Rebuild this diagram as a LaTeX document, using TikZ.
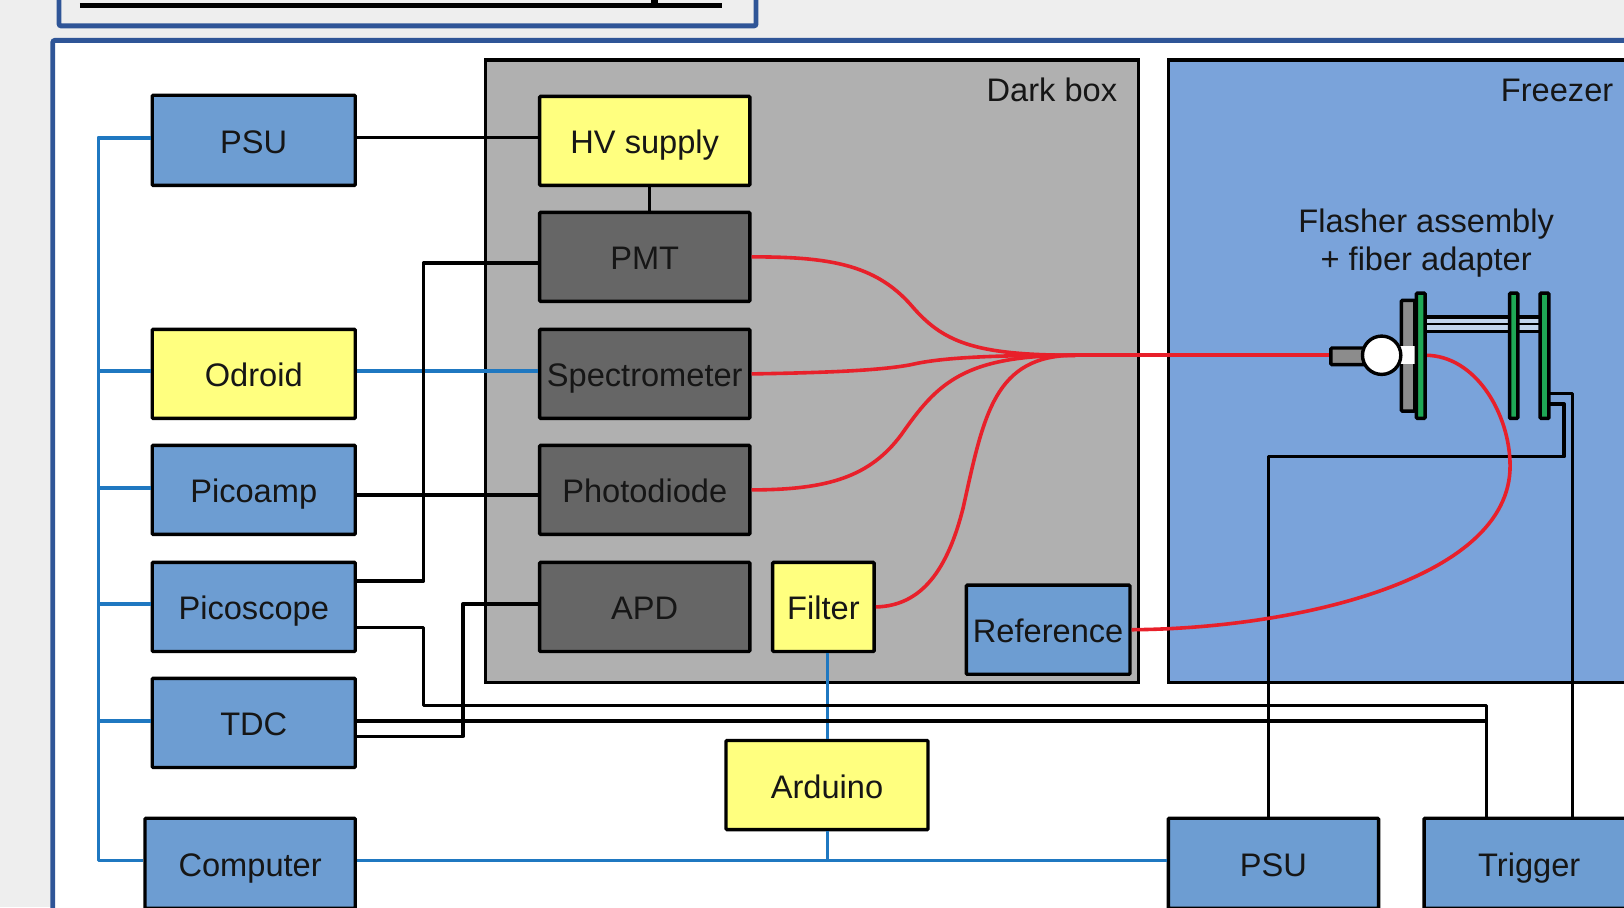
\documentclass[tikz,border=0pt]{standalone}
\usepackage{fontspec}
\setmainfont{Liberation Sans}
\definecolor{bg}{HTML}{EEEEEE}
\definecolor{frame}{HTML}{2F5597}
\definecolor{boxblue}{HTML}{6D9DD2}
\definecolor{freezerblue}{HTML}{7AA3DA}
\definecolor{boxyellow}{HTML}{FFFF7F}
\definecolor{boxdark}{HTML}{666666}
\definecolor{boxgrey}{HTML}{B0B0B0}
\definecolor{linkblue}{HTML}{1F78C1}
\definecolor{fiberred}{HTML}{E8202A}
\definecolor{greenbar}{HTML}{1FA855}
\definecolor{txt}{HTML}{161616}
\tikzset{
  x=0.51786pt,y=-0.51786pt,
  unit/.style={draw=black,line width=1.7pt,rounded corners=0.5pt,inner sep=0pt,font=\fontsize{16.3}{19}\selectfont,text=txt,text height=13pt,text depth=0pt,anchor=center},
  blueunit/.style={unit,fill=boxblue},
  yellowunit/.style={unit,fill=boxyellow},
  darkunit/.style={unit,fill=boxdark},
  enclosure/.style={draw=black,line width=1.7pt,inner sep=0pt},
  caption/.style={font=\fontsize{16.3}{19}\selectfont,text=txt,inner sep=0pt},
  wire/.style={draw=black,line width=1.7pt,line join=round},
  bus/.style={draw=linkblue,line width=1.8pt,line join=round},
  fiber/.style={draw=fiberred,line width=1.8pt},
  part/.style={draw=black,line width=1.7pt,rounded corners=0.5pt},
  bar/.style={part,fill=greenbar},
  panel/.style={draw=frame,line width=2.4pt,rounded corners=1pt},
}
\begin{document}
\begin{tikzpicture}
\useasboundingbox (0,0) rectangle (1568,875.8);
\clip (0,0) rectangle (1568,875.8);
\fill[bg] (0,0) rectangle (1568,875.8);
% panels
\draw[panel,fill=bg] (57,-20) rectangle (730,25);
\draw[black,line width=2.6pt] (77,5) -- (697,5);
\draw[black,line width=3.4pt] (632,-2) -- (632,5);
\draw[panel,fill=white] (51,39) rectangle (1620,920);
% enclosures
\node[enclosure,fill=boxgrey,minimum width=630*0.51786pt,minimum height=601*0.51786pt] (dark) at (784,358.5) {};
\node[enclosure,fill=freezerblue,minimum width=500*0.51786pt,minimum height=601*0.51786pt] (freezer) at (1378,358.5) {};
\node[caption,anchor=east] (darklabel) at (1079,87) {Dark box};
\node[caption,anchor=east] (freezerlabel) at (1558,87) {Freezer};
\node[caption,align=center] (flasherlabel) at (1377,235) {Flasher assembly\\+ fiber adapter};
% wires under units
\draw[wire] (1225,790) -- (1225,441) -- (1510,441) -- (1510,390) -- (1496,390);
\draw[wire] (1518,790) -- (1518,380) -- (1496,380);
% fibers
\coordinate (junction) at (1038,343);
\coordinate (adapter) at (1285,343);
% units
\node[blueunit,minimum width=196*0.51786pt,minimum height=87*0.51786pt] (psua) at (245,135.5) {PSU};
\node[yellowunit,minimum width=196*0.51786pt,minimum height=86*0.51786pt] (odroid) at (245,361) {Odroid};
\node[blueunit,minimum width=196*0.51786pt,minimum height=86*0.51786pt] (picoamp) at (245,473) {Picoamp};
\node[blueunit,minimum width=196*0.51786pt,minimum height=86*0.51786pt] (picoscope) at (245,586) {Picoscope};
\node[blueunit,minimum width=196*0.51786pt,minimum height=86*0.51786pt] (tdc) at (245,698) {TDC};
\node[blueunit,minimum width=203*0.51786pt,minimum height=87*0.51786pt] (computer) at (241.5,833.5) {Computer};
\node[yellowunit,minimum width=203*0.51786pt,minimum height=86*0.51786pt] (hv) at (622.5,136) {HV supply};
\node[darkunit,minimum width=203*0.51786pt,minimum height=86*0.51786pt] (pmt) at (622.5,248) {PMT};
\node[darkunit,minimum width=203*0.51786pt,minimum height=86*0.51786pt] (spec) at (622.5,361) {Spectrometer};
\node[darkunit,minimum width=203*0.51786pt,minimum height=86*0.51786pt] (photo) at (622.5,473) {Photodiode};
\node[darkunit,minimum width=203*0.51786pt,minimum height=86*0.51786pt] (apd) at (622.5,586) {APD};
\node[yellowunit,minimum width=98*0.51786pt,minimum height=86*0.51786pt] (filter) at (795,586) {Filter};
\node[blueunit,minimum width=158*0.51786pt,minimum height=86*0.51786pt] (reference) at (1012,608) {Reference};
\node[yellowunit,minimum width=195*0.51786pt,minimum height=86*0.51786pt] (arduino) at (798.5,758) {Arduino};
\node[blueunit,minimum width=203*0.51786pt,minimum height=87*0.51786pt] (psub) at (1229.5,833.5) {PSU};
\node[blueunit,minimum width=203*0.51786pt,minimum height=87*0.51786pt] (trigger) at (1476.5,833.5) {Trigger};
% blue links
\coordinate (bustop) at (95,133);
\coordinate (busbottom) at (95,831);
\draw[bus] (psua.west |- bustop) -- (bustop) -- (busbottom) -- (computer.west |- busbottom);
\draw[bus] (95,358) -- (odroid.west |- 0,358);
\draw[bus] (95,471) -- (picoamp.west |- 0,471);
\draw[bus] (95,583) -- (picoscope.west |- 0,583);
\draw[bus] (95,696) -- (tdc.west |- 0,696);
\draw[bus] (odroid.east |- 0,358) -- (spec.west |- 0,358);
\draw[bus] (filter.south -| 799,0) -- (arduino.north -| 799,0);
\draw[bus] (arduino.south -| 799,0) -- (799,831);
\draw[bus] (computer.east |- 0,831) -- (psub.west |- 0,831);
% black links
\draw[wire] (psua.east |- 0,133) -- (hv.west |- 0,133);
\draw[wire] (hv.south -| 627,0) -- (pmt.north -| 627,0);
\draw[wire] (picoscope.east |- 0,561) -- (409,561) -- (409,254) -- (pmt.west |- 0,254);
\draw[wire] (picoamp.east |- 0,478) -- (photo.west |- 0,478);
\draw[wire] (picoscope.east |- 0,606) -- (409,606) -- (409,681) -- (1435,681) -- (trigger.north -| 1435,0);
\draw[wire] (tdc.east |- 0,696) -- (1435,696);
\draw[wire] (tdc.east |- 0,711) -- (447,711) -- (447,583) -- (apd.west |- 0,583);
% red fibers
\draw[fiber] (pmt.east) .. controls (800,248) and (845,255) .. (880,295) .. controls (910,330) and (940,343) .. (junction);
\draw[fiber] (spec.east) .. controls (790,360) and (850,358) .. (880,352) .. controls (910,345) and (960,343) .. (junction);
\draw[fiber] (photo.east) .. controls (800,473) and (840,460) .. (870,420) .. controls (905,370) and (930,343) .. (junction);
\draw[fiber] (filter.east) .. controls (890,585) and (915,550) .. (930,490) .. controls (950,400) and (960,343) .. (junction);
\draw[fiber] (junction) -- (adapter);
\draw[fiber] (reference.east) .. controls (1250,607) and (1458,560) .. (1458,450) .. controls (1458,400) and (1425,343) .. (1376,343);
% flasher assembly
\fill[white!55!freezerblue] (1376,306) rectangle (1486,320);
\draw[wire] (1376,306) -- (1486,306);
\draw[wire,line width=1.2pt] (1376,313) -- (1486,313);
\draw[wire] (1376,320) -- (1486,320);
\draw[part,fill=gray!90] (1353,290) rectangle (1366,397);
\fill[black] (1364,290) rectangle (1368,397);
\draw[part,fill=gray!90] (1285,336) rectangle (1318,352);
\fill[white] (1350,334.5) rectangle (1366,351.5);
\draw[part,fill=white] (1334,343) circle (18.5);
\draw[bar] (1367.5,283) rectangle (1376,404);
\draw[bar] (1457.5,283) rectangle (1465.5,404);
\draw[bar] (1487,283) rectangle (1495.5,404);
\end{tikzpicture}
\end{document}
